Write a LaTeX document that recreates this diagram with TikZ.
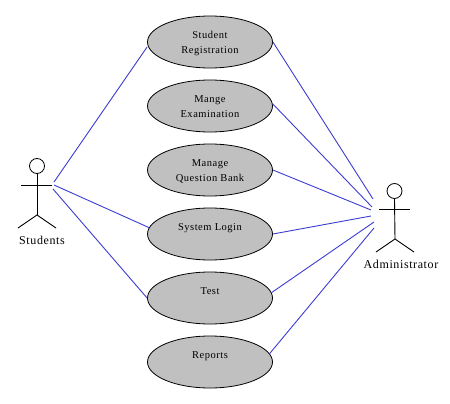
\documentclass[tikz,border=0pt]{standalone}
\usepackage{fontspec}
\setmainfont[LetterSpace=5]{Liberation Serif}
\usetikzlibrary{shapes.geometric}
\definecolor{usecasefill}{RGB}{192,192,192}
\definecolor{linkblue}{RGB}{60,60,210}
\newcommand{\oneline}[1]{\raisebox{4pt}[0pt][0pt]{#1}}
\newcommand{\lowered}[1]{\raisebox{-1pt}[\height][\depth]{#1}}
\tikzset{
  usecase/.style={ellipse,draw=black,line width=0.8pt,fill=usecasefill,minimum width=125pt,minimum height=52pt,inner sep=0pt,align=center,font=\fontsize{10.5}{15}\selectfont},
  actorline/.style={draw=black,line width=0.9pt},
  link/.style={draw=linkblue,line width=0.9pt},
  actorlabel/.style={inner sep=0pt,font=\fontsize{12}{14}\selectfont}
}
\begin{document}
\begin{tikzpicture}[x=1pt,y=-1pt]
\useasboundingbox (0,0) rectangle (450,404);
\node[usecase] (e1) at (210,42) {\lowered{Student}\\\lowered{Registration}};
\node[usecase] (e2) at (210,106) {\lowered{Mange}\\\lowered{Examination}};
\node[usecase] (e3) at (210,170) {\lowered{Manage}\\\lowered{Question Bank}};
\node[usecase] (e4) at (210,234) {\oneline{System Login}};
\node[usecase] (e5) at (210,298) {\oneline{Test}};
\node[usecase] (e6) at (210,362) {\oneline{Reports}};
% left actor
\node[circle,draw=black,line width=0.8pt,minimum size=15pt,inner sep=0pt] (headL) at (37,166) {};
\coordinate (hipL) at (37,215);
\coordinate (armLa) at (21,185);
\coordinate (armLb) at (52,185);
\coordinate (legLa) at (18,228);
\coordinate (legLb) at (56,228);
\draw[actorline] (headL.south) -- (hipL);
\draw[actorline] (armLa) -- (armLb);
\draw[actorline] (legLa) -- (hipL) -- (legLb);
\node[actorlabel] (labL) at (42,240) {Students};
% right actor
\node[circle,draw=black,line width=0.8pt,minimum size=15pt,inner sep=0pt] (headR) at (394.5,191) {};
\coordinate (hipR) at (395,239);
\coordinate (armRa) at (379,209);
\coordinate (armRb) at (410,209);
\coordinate (legRa) at (376,252);
\coordinate (legRb) at (414,252);
\draw[actorline] (headR.south) -- (hipR);
\draw[actorline] (armRa) -- (armRb);
\draw[actorline] (legRa) -- (hipR) -- (legRb);
\node[actorlabel] (labR) at (401,264) {Administrator};
% free ends left
\coordinate (la) at (54,182);
\coordinate (lb) at (54,185);
\coordinate (lc) at (53,189);
% free ends right
\coordinate (ra) at (373,199);
\coordinate (rb) at (372,207);
\coordinate (rc) at (371,210);
\coordinate (rd) at (371,216);
\coordinate (re) at (374,222);
\coordinate (rf) at (374,228);
\draw[link] (la) -- (e1.west |- 0,47);
\draw[link] (lb) -- (e4.174);
\draw[link] (lc) -- (e5.west);
\draw[link] (e1.east) -- (ra);
\draw[link] (e2.2) -- (rb);
\draw[link] (e3.east) -- (rc);
\draw[link] (e4.east) -- (rd);
\draw[link] (e5.5) -- (re);
\draw[link] (e6.8) -- (rf);
\end{tikzpicture}
\end{document}
